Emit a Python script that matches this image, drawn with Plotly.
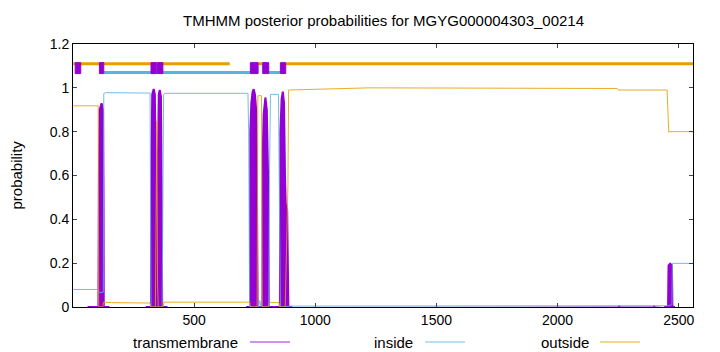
import plotly.graph_objects as go

# ---- data ----
seq_len = 2559

tm_x = [60, 104, 105, 107, 110, 118, 124, 126, 127, 150, None,
        300, 322, 324, 327, 333, 338, 341, 342, 343,
        348, 349, 351, 354, 358, 363, 366, 368, 390, None,
        715, 731, 732, 736, 741, 746, 751, 756, 759, 761, 762,
        781, 782, 783, 787, 794, 800, 805, 807, 808,
        853, 854, 856, 861, 866, 871, 875, 878, 884, 887, 889, 905, None,
        2250, 2258, None, 2395, 2403, None,
        2440, 2456, 2458, 2465, 2472, 2474, 2485]
tm_y = [0, 0, 0, 0.6, 0.9, 0.93, 0.9, 0.5, 0, 0, None,
        0, 0, 0.7, 0.97, 0.995, 0.97, 0.6, 0, 0,
        0, 0, 0.7, 0.97, 0.99, 0.96, 0.5, 0, 0, None,
        0, 0, 0.8, 0.93, 0.98, 0.994, 0.97, 0.9, 0.6, 0, 0,
        0, 0, 0.7, 0.88, 0.956, 0.9, 0.6, 0, 0,
        0, 0, 0.8, 0.95, 0.983, 0.93, 0.6, 0.47, 0.44, 0.2, 0, 0, None,
        0.002, 0.002, None, 0.002, 0.002, None,
        0, 0, 0.19, 0.198, 0.19, 0, 0]

ins_x = [1, 104, 105, 125, 127, 135, 318, 320, 322, 368, 371, 374, 380,
         722, 725, 729, 766, 771, 776, 808, 811, 815, 848, 852,
         856, 900, 2250, 2455, 2472, 2474, 2559]
ins_y = [0.08, 0.08, 0.067, 0.067, 0.974, 0.978, 0.976, 0.6, 0.0, 0.0, 0.5, 0.97, 0.975,
         0.975, 0.8, 0.0, 0.0, 0.03, 0.0, 0.0, 0.6, 0.97, 0.97, 0.6,
         0.0, 0.004, 0.006, 0.006, 0.01, 0.199, 0.199]

out_x = [1, 104, 106, 123, 126, 160, 318, 321, 340, 343, 346, 349, 352, 372, 375,
         729, 732, 760, 763, 778, 781, 808, 811, 850, 853, 876, 884, 887, 890,
         1130, 1224, 2246, 2250, 2452, 2459, 2462, 2559]
out_y = [0.918, 0.918, 0.0, 0.0, 0.022, 0.02, 0.018, 0.0, 0.0, 0.85, 0.85, 0.1, 0.0, 0.0, 0.022,
         0.022, 0.0, 0.0, 0.964, 0.964, 0.0, 0.0, 0.02, 0.02, 0.0, 0.0, 0.5, 0.55, 0.99,
         0.995, 1.0, 0.997, 0.99, 0.99, 0.797, 0.80, 0.80]

# topology bars on top
tm_segments = [(9, 32), (109, 127), (322, 344), (349, 371), (732, 764), (783, 808), (856, 878)]
inside_segments = [(127, 732), (808, 856)]
outside_segments = [(1, 647), (764, 783), (878, 2559)]
bar_levels = {"outside": 1.11, "inside": 1.07, "tm_lo": 1.065, "tm_hi": 1.115}

x_ticks = [500, 1000, 1500, 2000, 2500]
y_ticks = [0, 0.2, 0.4, 0.6, 0.8, 1.0, 1.2]
y_tick_text = ["0", "0.2", "0.4", "0.6", "0.8", "1", "1.2"]

title = "TMHMM posterior probabilities for MGYG000004303_00214"
legend_names = ["transmembrane", "inside", "outside"]

PURPLE = "#9400D3"
BLUE = "#56B4E9"
ORANGE = "#E69F00"
FONT = "Liberation Sans, Arial, sans-serif"

fig = go.Figure()

fig.add_trace(go.Scatter(x=tm_x, y=tm_y, mode="lines", fill="tozeroy",
                         fillcolor=PURPLE, line=dict(color=PURPLE, width=2),
                         connectgaps=False, showlegend=False, hoverinfo="skip"))
fig.add_trace(go.Scatter(x=ins_x, y=ins_y, mode="lines",
                         line=dict(color=BLUE, width=1), opacity=0.85,
                         showlegend=False, hoverinfo="skip"))
fig.add_trace(go.Scatter(x=out_x, y=out_y, mode="lines",
                         line=dict(color=ORANGE, width=1), opacity=0.85,
                         showlegend=False, hoverinfo="skip"))

def seg_xy(segs, level):
    xs, ys = [], []
    for a, b in segs:
        xs += [a, b, None]
        ys += [level, level, None]
    return xs, ys

ox, oy = seg_xy(outside_segments, bar_levels["outside"])
fig.add_trace(go.Scatter(x=ox, y=oy, mode="lines", line=dict(color=ORANGE, width=3),
                         showlegend=False, hoverinfo="skip"))
ix, iy = seg_xy(inside_segments, bar_levels["inside"])
fig.add_trace(go.Scatter(x=ix, y=iy, mode="lines", line=dict(color=BLUE, width=3),
                         showlegend=False, hoverinfo="skip"))

bx, by = [], []
lo, hi = bar_levels["tm_lo"], bar_levels["tm_hi"]
for a, b in tm_segments:
    bx += [a, b, b, a, a, None]
    by += [lo, lo, hi, hi, lo, None]
fig.add_trace(go.Scatter(x=bx, y=by, mode="lines", fill="toself", fillcolor=PURPLE,
                         line=dict(color=PURPLE, width=1),
                         showlegend=False, hoverinfo="skip"))

# legend drawn gnuplot-style: text then line sample
L, R, T, B = 73, 27, 44, 45
W, H = 720 - L - R, 352 - T - B
def px2paper_x(px):
    return (px - L) / W
def px2paper_y(py):
    return (352 - B - py) / H

legend_items = [(legend_names[0], 240, 250, 290, PURPLE),
                (legend_names[1], 415, 425, 465, BLUE),
                (legend_names[2], 591, 600, 640, ORANGE)]
annotations = []
shapes = []
ly = px2paper_y(342)
for name, tx, x0, x1, col in legend_items:
    annotations.append(dict(text=name, x=px2paper_x(tx), y=ly, xref="paper", yref="paper",
                            xanchor="right", yanchor="middle", showarrow=False,
                            font=dict(family=FONT, size=15, color="black")))
    shapes.append(dict(type="line", xref="paper", yref="paper",
                       x0=px2paper_x(x0), x1=px2paper_x(x1), y0=ly, y1=ly,
                       line=dict(color=col, width=1), opacity=0.85))

annotations.append(dict(text=title, x=0.5, y=px2paper_y(20), xref="paper", yref="paper",
                        xanchor="center", yanchor="middle", showarrow=False,
                        font=dict(family=FONT, size=15, color="black")))
annotations.append(dict(text="probability", x=px2paper_x(16), y=0.5, xref="paper", yref="paper",
                        xanchor="center", yanchor="middle", showarrow=False, textangle=-90,
                        font=dict(family=FONT, size=15, color="black")))

fig.update_layout(
    width=720, height=352,
    margin=dict(l=L, r=R, t=T, b=B),
    plot_bgcolor="white", paper_bgcolor="white",
    showlegend=False,
    annotations=annotations, shapes=shapes,
    font=dict(family=FONT, size=13, color="black"),
)
fig.update_xaxes(range=[0, seq_len], tickvals=x_ticks, ticks="inside", ticklen=4,
                 showline=True, mirror="allticks", linecolor="black", linewidth=1,
                 showgrid=False, zeroline=False, tickfont=dict(family=FONT, size=14))
fig.update_yaxes(range=[0, 1.2], tickvals=y_ticks, ticktext=y_tick_text, ticks="inside",
                 ticklen=4, showline=True, mirror="allticks", linecolor="black", linewidth=1,
                 showgrid=False, zeroline=False, tickfont=dict(family=FONT, size=14))

fig.write_html("out.html")
